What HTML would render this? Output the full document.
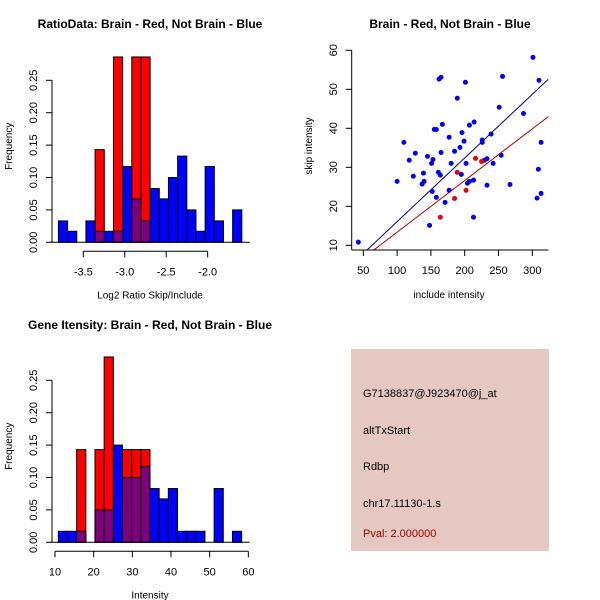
<!DOCTYPE html>
<html><head><meta charset="utf-8"><style>
body{margin:0;background:#fff}
svg{display:block;font-family:"Liberation Sans",sans-serif}
</style></head><body>
<svg id="c" width="600" height="600" viewBox="0 0 600 600">
<rect width="600" height="600" fill="#fff"/>
<g>
<rect x="351" y="349" width="198" height="202" fill="#e5c8c2"/>
<g font-size="11" fill="#000">
<text x="363" y="397">G7138837@J923470@j_at</text>
<text x="363" y="434">altTxStart</text>
<text x="363" y="470">Rdbp</text>
<text x="363" y="507">chr17.11130-1.s</text>
<text x="363" y="537" fill="#a00000">Pval: 2.000000</text>
</g></g>
</svg>
<script>
// ---- Histogram 1 data ----
const h1Start=-3.80, h1Width=0.1106;
const h1Blue=[0.033,0.017,0,0.033,0.017,0.017,0.017,0.117,0.067,0.033,0.083,0.067,0.1,0.133,0.05,0.017,0.117,0.033,0,0.05];
const h1Red=[0,0,0,0,0.143,0,0.286,0,0.286,0.286,0,0,0,0,0,0,0,0,0,0];
const h1XTicks=[-3.5,-3.0,-2.5,-2.0];
const h1XLabels=["-3.5","-3.0","-2.5","-2.0"];
const yTicks=[0,0.05,0.10,0.15,0.20,0.25];
const yLabels=["0.00","0.05","0.10","0.15","0.20","0.25"];
// ---- Histogram 2 data ----
const h2Start=10.86, h2Width=2.37;
const h2Blue=[0.017,0.017,0.017,0,0.05,0.05,0.15,0.1,0.1,0.117,0.083,0.067,0.083,0.017,0.017,0.017,0,0.083,0,0.017];
const h2Red=[0,0,0.143,0,0.143,0.286,0,0.143,0.143,0.143,0,0,0,0,0,0,0,0,0,0];
const h2XTicks=[10,20,30,40,50,60];
const h2XLabels=["10","20","30","40","50","60"];
// ---- Scatter data ----
const blueX=[42.6,100,110,118,127,124,137,140,139,145,151,153,152,155,158,158,148,161,164,162,165,165,167,171,177,177,180,185,189,193,195,196,199,201,202,204,207,207,213,213,214,226,226,229,233,233,239,242,251,254,256,267,287,301,307,309,310,313,313];
const blueY=[10.8,26.4,36.4,31.8,33.6,27.7,25.7,26.4,28.5,32.8,31,32,23.8,39.7,39.7,22.3,15.1,28.7,28,52.6,53.1,33.8,41,21,24.1,37.7,31,34.1,47.7,35.1,28.2,38.9,36.7,51.8,31,25.9,40.8,26.4,17.2,26.7,41.6,37,36.4,31.8,32.2,25.4,38.5,31,45.4,33.1,53.3,25.6,43.8,58.2,22.1,29.5,52.3,36.4,23.3];
const redX=[164,185,189,202,216,225];
const redY=[17.2,22,28.7,24.1,32.3,31.5];
const blueFit=[-0.27,0.1633];
const redFit=[0.11,0.1325];
const sxTicks=[50,100,150,200,250,300];
const syTicks=[10,20,30,40,50,60];

const svg=document.getElementById('c');
const NS='http://www.w3.org/2000/svg';
function mk(tag,attrs,parent){const e=document.createElementNS(NS,tag);for(const k in attrs)e.setAttribute(k,attrs[k]);(parent||svg).appendChild(e);return e;}

function hist(g,yBase,xpx,start,w,blue,red,xt,xl,title,titleY,xlab){
  const Y=v=>yBase-v*648;
  const bx=i=>xpx(start+i*w), bw=xpx(start+w)-xpx(start);
  blue.forEach((v,i)=>{ if(v>0){const r=mk('rect',{x:bx(i),y:Y(v),width:bw,height:v*648,fill:'#0000ff',stroke:'#000','stroke-width':1},g);
    
    }});
  red.forEach((v,i)=>{ if(v>0){const r=mk('rect',{x:bx(i),y:Y(v),width:bw,height:v*648,fill:'#ff0000',stroke:'#000','stroke-width':1},g);
    
    
    const m=Math.min(v,blue[i]); if(m>0){const p=mk('rect',{x:bx(i),y:Y(m),width:bw,height:m*648,fill:'#7f007f',stroke:'#000','stroke-width':1},g);
    
    }}});
  mk('line',{x1:bx(0)-8,x2:bx(blue.length)+8,y1:yBase,y2:yBase,stroke:'#000'},g);
  mk('line',{x1:52,x2:52,y1:Y(0),y2:Y(0.25),stroke:'#000'},g);
  yTicks.forEach((t,i)=>{mk('line',{x1:46,x2:52,y1:Y(t),y2:Y(t),stroke:'#000'},g);
    const tx=mk('text',{x:37,y:Y(t),transform:`rotate(-90 37 ${Y(t)})`,'text-anchor':'middle','font-size':11},g);tx.textContent=yLabels[i];
    
    });
  const ya=yBase+9;
  mk('line',{x1:xpx(xt[0]),x2:xpx(xt[xt.length-1]),y1:ya,y2:ya,stroke:'#000'},g);
  xt.forEach((t,i)=>{mk('line',{x1:xpx(t),x2:xpx(t),y1:ya,y2:ya+6,stroke:'#000'},g);
    const tx=mk('text',{x:xpx(t),y:ya+24,'text-anchor':'middle','font-size':11},g);tx.textContent=xl[i];
    
    });
  const t=mk('text',{x:150,y:titleY,'text-anchor':'middle','font-size':12,'font-weight':'bold'},g);t.textContent=title;
  
  
  const xl2=mk('text',{x:150,y:yBase+56,'text-anchor':'middle','font-size':10},g);xl2.textContent=xlab;
  
  
  const yl=mk('text',{x:12,y:yBase-96,transform:`rotate(-90 12 ${yBase-96})`,'text-anchor':'middle','font-size':10},g);yl.textContent='Frequency';
  
  
}
const g1=mk('g',{});


hist(g1,242.3,v=>83.3+(v+3.5)*82.9,h1Start,h1Width,h1Blue,h1Red,h1XTicks,h1XLabels,'RatioData: Brain - Red, Not Brain - Blue',28,'Log2 Ratio Skip/Include');
const g3=mk('g',{});


hist(g3,542.3,v=>55+(v-10)*3.867,h2Start,h2Width,h2Blue,h2Red,h2XTicks,h2XLabels,'Gene Itensity: Brain - Red, Not Brain - Blue',329,'Intensity');

// scatter
const g2=mk('g',{});


const SX=v=>363.3+(v-50)*0.676, SY=v=>245.3-(v-10)*3.9;
const L=351.7,R=548.3,T=45,B=250;
const cp=mk('clipPath',{id:'cl'},g2);
mk('rect',{x:L,y:T,width:R-L,height:B-T},cp);
blueX.forEach((x,i)=>{const c=mk('circle',{cx:SX(x),cy:SY(blueY[i]),r:2.5,fill:'#0000ee'},g2);
  
  });
redX.forEach((x,i)=>{const c=mk('circle',{cx:SX(x),cy:SY(redY[i]),r:2.5,fill:'#ee0000'},g2);
  
  });
[[blueFit,'#00008b','blue-fit-line'],[redFit,'#b00000','red-fit-line']].forEach(([f,col,n])=>{
  const xa=0,xb=340;const l=mk('line',{x1:SX(xa),y1:SY(f[0]+f[1]*xa),x2:SX(xb),y2:SY(f[0]+f[1]*xb),stroke:col,'stroke-width':1,'clip-path':'url(#cl)'},g2);
  
  });
mk('line',{x1:L,x2:R,y1:B,y2:B,stroke:'#000'},g2);
mk('line',{x1:L,x2:L,y1:B,y2:SY(60),stroke:'#000'},g2);
sxTicks.forEach(t=>{mk('line',{x1:SX(t),x2:SX(t),y1:B,y2:B+6,stroke:'#000'},g2);
  const tx=mk('text',{x:SX(t),y:B+24,'text-anchor':'middle','font-size':11},g2);tx.textContent=t;
  
  });
syTicks.forEach(t=>{mk('line',{x1:L-6,x2:L,y1:SY(t),y2:SY(t),stroke:'#000'},g2);
  const tx=mk('text',{x:337,y:SY(t),transform:`rotate(-90 337 ${SY(t)})`,'text-anchor':'middle','font-size':11},g2);tx.textContent=t;
  
  });
const st=mk('text',{x:450,y:28,'text-anchor':'middle','font-size':12,'font-weight':'bold'},g2);st.textContent='Brain - Red, Not Brain - Blue';


const sxl=mk('text',{x:449,y:298,'text-anchor':'middle','font-size':10},g2);sxl.textContent='include intensity';


const syl=mk('text',{x:312,y:146,transform:'rotate(-90 312 146)','text-anchor':'middle','font-size':10},g2);syl.textContent='skip intensity';


</script>
</body></html>
